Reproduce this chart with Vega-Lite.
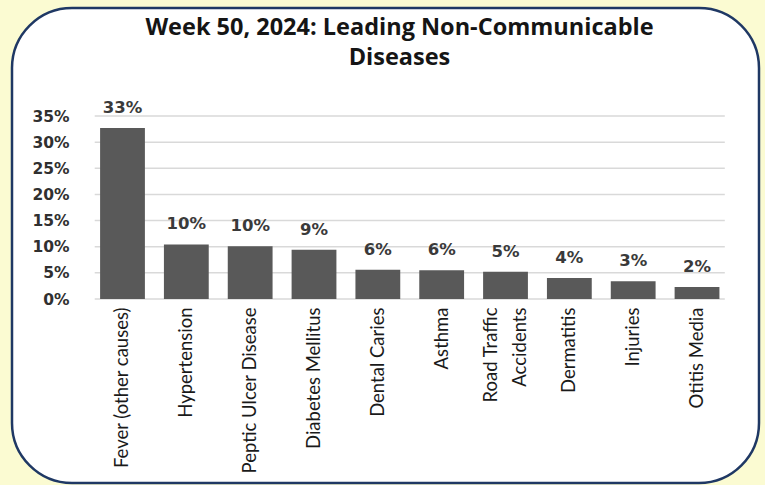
{
  "$schema": "https://vega.github.io/schema/vega-lite/v6.json",
  "autosize": "none",
  "padding": {"left": 12, "top": 8, "right": 6, "bottom": 2},
  "width": 747,
  "height": 475,
  "background": "#FBFBD2",
  "config": {
    "view": {"stroke": "#1F3864", "strokeWidth": 2.5, "fill": "white", "cornerRadius": 60}
  },
  "title": {
    "text": ["Week 50, 2024: Leading Non-Communicable", "Diseases"],
    "font": "Open Sans",
    "fontWeight": "bold",
    "fontSize": 23.5,
    "color": "#151515",
    "lineHeight": 30,
    "anchor": "middle",
    "frame": "group",
    "baseline": "top",
    "dx": 14,
    "offset": -61
  },
  "datasets": {
    "diseases": [
      {"disease": "Fever (other causes)", "share": 0.327},
      {"disease": "Hypertension", "share": 0.1045},
      {"disease": "Peptic Ulcer Disease", "share": 0.101},
      {"disease": "Diabetes Mellitus", "share": 0.094},
      {"disease": "Dental Caries", "share": 0.056},
      {"disease": "Asthma", "share": 0.0552},
      {"disease": "Road Traffic Accidents", "share": 0.052},
      {"disease": "Dermatitis", "share": 0.04},
      {"disease": "Injuries", "share": 0.034},
      {"disease": "Otitis Media", "share": 0.023}
    ],
    "grid": [
      {"level": 0}, {"level": 0.05}, {"level": 0.1}, {"level": 0.15},
      {"level": 0.2}, {"level": 0.25}, {"level": 0.3}, {"level": 0.35}
    ]
  },
  "layer": [
    {
      "data": {"name": "grid"},
      "mark": {"type": "rule", "color": "#D9D9D9", "strokeWidth": 1.5},
      "encoding": {
        "y": {"field": "level", "type": "quantitative"},
        "x": {"datum": "Fever (other causes)", "type": "nominal", "bandPosition": -0.12},
        "x2": {"datum": "Otitis Media", "bandPosition": 1.12}
      }
    },
    {
      "data": {"name": "diseases"},
      "mark": {"type": "bar", "color": "#595959"},
      "encoding": {
        "x": {
          "field": "disease",
          "type": "nominal",
          "sort": null,
          "scale": {
            "domain": ["Fever (other causes)", "Hypertension", "Peptic Ulcer Disease", "Diabetes Mellitus", "Dental Caries", "Asthma", "Road Traffic Accidents", "Dermatitis", "Injuries", "Otitis Media"],
            "paddingInner": 0.298, "paddingOuter": 1.07, "align": 0.69
          },
          "axis": {
            "title": null,
            "domain": false,
            "ticks": false,
            "grid": false,
            "labelAngle": 270,
            "labelAlign": "right",
            "labelBaseline": "middle",
            "labelFont": "Lato",
            "labelFontSize": 18.5,
            "labelColor": "#1a1a1a",
            "labelLineHeight": 29,
            "labelLimit": 250,
            "labelPadding": 8,
            "labelOffset": {"condition": {"test": "datum.value == 'Road Traffic Accidents'", "value": -14.5}, "value": 0},
            "offset": -184,
            "labelExpr": "datum.value == 'Road Traffic Accidents' ? ['Road Traffic', 'Accidents'] : datum.value"
          }
        },
        "y": {
          "field": "share",
          "type": "quantitative",
          "scale": {"domain": [-0.3519, 0.5566], "nice": false, "zero": false},
          "axis": {
            "title": null,
            "domain": false,
            "ticks": false,
            "grid": false,
            "values": [0, 0.05, 0.1, 0.15, 0.2, 0.25, 0.3, 0.35],
            "format": ".0%",
            "labelFont": "DejaVu Sans",
            "labelFontWeight": "bold",
            "labelFontSize": 15.5,
            "labelColor": "#303030",
            "labelPadding": 0,
            "offset": -57
          }
        },
        "y2": {"datum": 0}
      }
    },
    {
      "data": {"name": "diseases"},
      "mark": {"type": "text", "font": "DejaVu Sans", "fontWeight": "bold", "fontSize": 16.5, "color": "#3a3a3a", "baseline": "alphabetic", "dy": -15},
      "encoding": {
        "x": {"field": "disease", "type": "nominal", "sort": null},
        "y": {"field": "share", "type": "quantitative"},
        "text": {"field": "share", "type": "quantitative", "format": ".0%"}
      }
    }
  ]
}
